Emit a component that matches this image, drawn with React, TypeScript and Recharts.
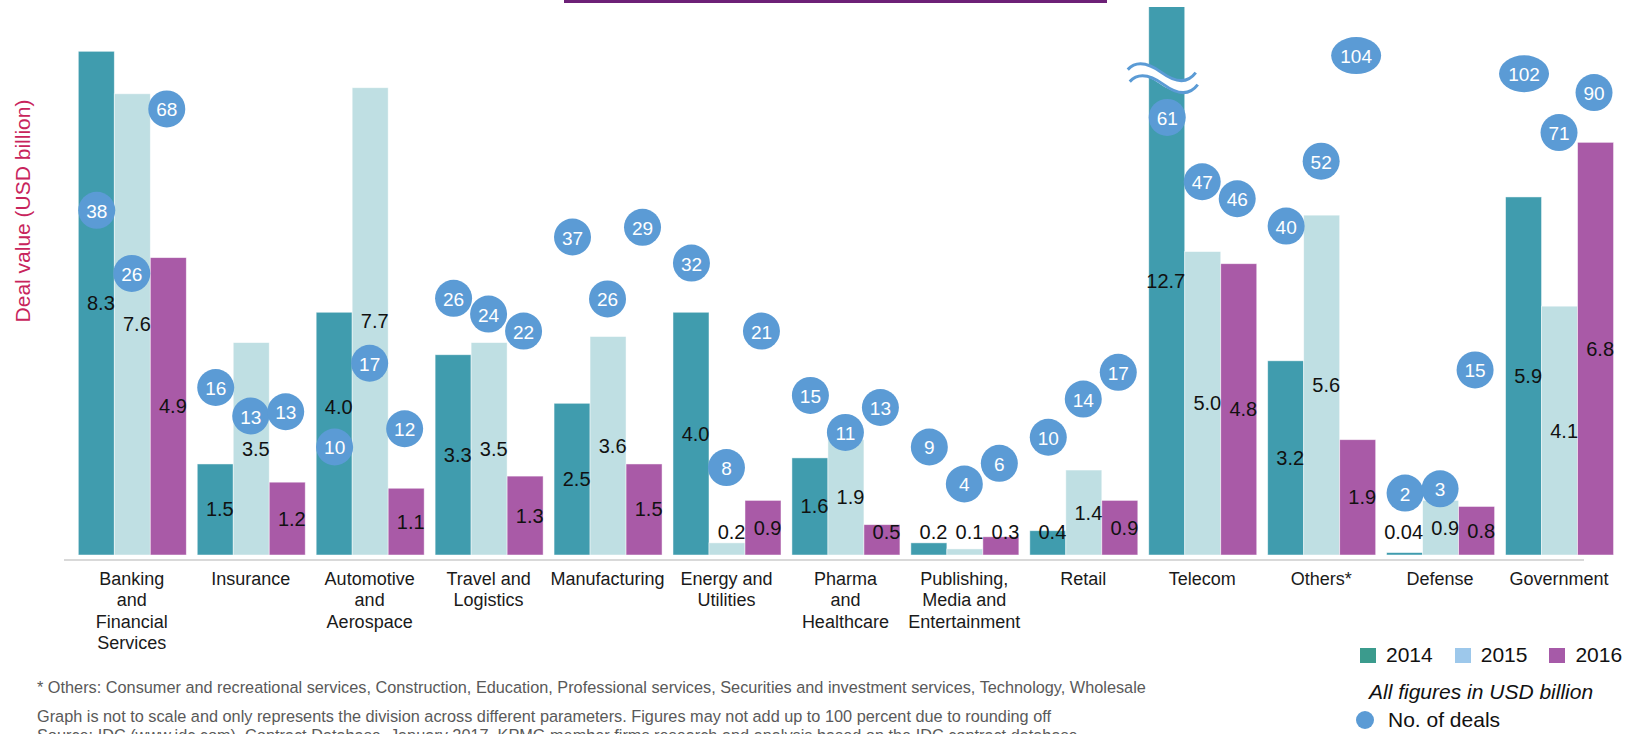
import React from 'react';
import { ComposedChart, Bar, Scatter, XAxis, YAxis, LabelList, Legend } from 'recharts';

// categories (line breaks are the label wrapping used in the original)
const categories = [
  'Banking\nand\nFinancial\nServices',
  'Insurance',
  'Automotive\nand\nAerospace',
  'Travel and\nLogistics',
  'Manufacturing',
  'Energy and\nUtilities',
  'Pharma\nand\nHealthcare',
  'Publishing,\nMedia and\nEntertainment',
  'Retail',
  'Telecom',
  'Others*',
  'Defense',
  'Government',
];

// deal value, USD billion
const value2014 = [8.3, 1.5, 4.0, 3.3, 2.5, 4.0, 1.6, 0.2, 0.4, 12.7, 3.2, 0.04, 5.9];
const value2015 = [7.6, 3.5, 7.7, 3.5, 3.6, 0.2, 1.9, 0.1, 1.4, 5.0, 5.6, 0.9, 4.1];
const value2016 = [4.9, 1.2, 1.1, 1.3, 1.5, 0.9, 0.5, 0.3, 0.9, 4.8, 1.9, 0.8, 6.8];

// number of deals
const deals2014 = [38, 16, 10, 26, 37, 32, 15, 9, 10, 61, 40, 2, 102];
const deals2015 = [26, 13, 17, 24, 26, 8, 11, 4, 14, 47, 52, 3, 71];
const deals2016 = [68, 13, 12, 22, 29, 21, 13, 6, 17, 46, 104, 15, 90];

// height at which each deal bubble sits, on the deal value axis
const dealLevel2014 = [5.68, 2.76, 1.78, 4.23, 5.24, 4.81, 2.63, 1.78, 1.94, 7.21, 5.42, 1.02, 7.93];
const dealLevel2015 = [4.64, 2.29, 3.16, 3.97, 4.22, 1.44, 2.02, 1.17, 2.57, 6.15, 6.49, 1.09, 6.96];
const dealLevel2016 = [7.35, 2.36, 2.08, 3.69, 5.4, 3.69, 2.43, 1.51, 3.01, 5.87, 8.23, 3.05, 7.62];

const years = ['2014', '2015', '2016'];

const Y_MAX = 9.03;
const BREAK_AT = 7.85;

const CHART_W = 1629;
const CHART_H = 734;
const MARGIN = { top: 7, right: 10.5, left: 72.3, bottom: 79 };
const BAR_SIZE = 35;
const BAND = (CHART_W - MARGIN.left - MARGIN.right) / categories.length;
const BAR_STEP = BAR_SIZE / BAND;

const FONT = '"Liberation Sans", Arial, sans-serif';
const BAR_COLORS = ['#409CAE', '#BFDFE3', '#A95AA7'];
const LEGEND_COLORS: Record<string, string> = { '2014': '#3B9B8D', '2015': '#9DC8EB', '2016': '#A65AA8' };
const BUBBLE = '#5B9BD5';

const chartData = categories.map((name, i) => ({
  name,
  y2014: value2014[i],
  y2015: value2015[i],
  y2016: value2016[i],
}));

const levels = [dealLevel2014, dealLevel2015, dealLevel2016];
const deals = [deals2014, deals2015, deals2016];
const dealData = deals.flatMap((row, k) =>
  row.map((n, i) => ({ x: i + 0.5 + (k - 1) * BAR_STEP, y: levels[k][i], n }))
);

const renderTick = (props: any) => {
  const { x, y, payload } = props;
  const lines = String(payload.value).split('\n');
  return (
    <text x={x} y={y} textAnchor="middle" fontSize={18} fill="#1a1a1a" fontFamily={FONT}>
      {lines.map((l, i) => (
        <tspan key={i} x={x} dy={i === 0 ? 30 : 21.4}>
          {l}
        </tspan>
      ))}
    </text>
  );
};

const renderBar = (props: any) => {
  const { x, y, width, height, fill, payload, dataKey } = props;
  const v = payload ? payload[dataKey] : 0;
  const bottom = y + height;
  const broken = v > Y_MAX;
  const cx = x + width / 2 - 3;
  const cy = bottom - height * (BREAK_AT / v);
  const wave = 'M -36 -9 Q -24 -22 -2 -6 T 32 -6';
  return (
    <g>
      <rect x={x} y={y} width={width} height={height} fill={fill} stroke="#ffffff" strokeOpacity={0.6} strokeWidth={0.8} />
      {broken && (
        <g transform={`translate(${cx},${cy})`}>
          <path d={wave} transform="translate(0,6)" fill="none" stroke="#ffffff" strokeWidth={11} />
          <path d={wave} fill="none" stroke={BUBBLE} strokeWidth={3} />
          <path d={wave} transform="translate(2,12)" fill="none" stroke={BUBBLE} strokeWidth={3} />
        </g>
      )}
    </g>
  );
};

// value labels sit in the middle of the visible bar, never lower than just above the base,
// and move above the deal bubble when they would run into it
const makeValueLabel = (k: number) => (props: any) => {
  const vb = props.viewBox ?? props;
  const { x, y, width, height } = vb;
  const v = Number(props.value);
  const bottom = y + height;
  const top = Math.max(y, MARGIN.top);
  let cy = Math.min((bottom + top) / 2, bottom - 23);
  const idx = props.index;
  if (typeof idx === 'number' && v > 0) {
    const bubbleY = bottom - (levels[k][idx] / v) * height;
    if (Math.abs(bubbleY - cy) < 30) cy = bubbleY - 40;
  }
  const text = v < 0.1 ? v.toFixed(2) : v.toFixed(1);
  return (
    <text x={x + width + 0.5} y={cy} textAnchor="end" dominantBaseline="central" fontSize={20} fill="#111" fontFamily={FONT}>
      {text}
    </text>
  );
};

const renderBubble = (props: any) => {
  const { cx, cy, payload } = props;
  const wide = payload.n >= 100;
  return (
    <g>
      <ellipse cx={cx} cy={cy} rx={wide ? 25 : 18.5} ry={18.5} fill={BUBBLE} />
      <text x={cx} y={cy + 1} textAnchor="middle" dominantBaseline="central" fontSize={19} fill="#ffffff" fontFamily={FONT}>
        {payload.n}
      </text>
    </g>
  );
};

const renderLegend = (props: any) => {
  const payload: any[] = props.payload || [];
  const bars = payload.filter((p) => p.type !== 'circle');
  const dots = payload.filter((p) => p.type === 'circle');
  return (
    <div style={{ position: 'relative', width: 273, height: 98, fontFamily: FONT, fontSize: 21, color: '#111' }}>
      <div style={{ position: 'absolute', left: 4, top: 5, height: 28, display: 'flex', alignItems: 'center' }}>
        {bars.map((p) => (
          <div key={p.value} style={{ display: 'flex', alignItems: 'center', marginRight: 22 }}>
            <span style={{ width: 16, height: 15, background: LEGEND_COLORS[p.value] ?? p.color, display: 'inline-block' }} />
            <span style={{ marginLeft: 10, lineHeight: '28px' }}>{p.value}</span>
          </div>
        ))}
      </div>
      <div style={{ position: 'absolute', left: 13, top: 42, lineHeight: '28px', fontStyle: 'italic', whiteSpace: 'nowrap' }}>
        All figures in USD billion
      </div>
      {dots.map((p) => (
        <div key={p.value} style={{ position: 'absolute', left: 0, top: 70, height: 28, display: 'flex', alignItems: 'center' }}>
          <span style={{ width: 18, height: 18, borderRadius: 9, background: BUBBLE, display: 'inline-block' }} />
          <span style={{ marginLeft: 14, lineHeight: '28px', whiteSpace: 'nowrap' }}>{p.value}</span>
        </div>
      ))}
    </div>
  );
};

export default function App() {
  return (
    <div
      style={{
        position: 'absolute',
        left: 0,
        top: 0,
        width: CHART_W,
        height: CHART_H,
        overflow: 'hidden',
        background: '#ffffff',
        fontFamily: FONT,
      }}
    >
      <div style={{ position: 'absolute', left: 564, top: 0, width: 543, height: 3, background: '#6D2077' }} />
      <ComposedChart width={CHART_W} height={CHART_H} data={chartData} margin={MARGIN} barCategoryGap={6} barGap={0}>
        <XAxis
          dataKey="name"
          interval={0}
          tickLine={false}
          axisLine={false}
          tickSize={0}
          tickMargin={0}
          height={100}
          tick={renderTick}
        />
        <XAxis xAxisId="pos" type="number" dataKey="x" domain={[0, categories.length]} hide />
        <YAxis hide type="number" domain={[0, Y_MAX]} allowDataOverflow />
        {years.map((yr, k) => (
          <Bar
            key={yr}
            dataKey={`y${yr}`}
            name={yr}
            fill={BAR_COLORS[k]}
            isAnimationActive={false}
            shape={renderBar}
          >
            <LabelList dataKey={`y${yr}`} content={makeValueLabel(k)} />
          </Bar>
        ))}
        <Scatter
          name="No. of deals"
          data={dealData}
          xAxisId="pos"
          dataKey="y"
          fill={BUBBLE}
          legendType="circle"
          shape={renderBubble}
          isAnimationActive={false}
        />
        <Legend
          layout="horizontal"
          verticalAlign="middle"
          align="center"
          content={renderLegend}
          wrapperStyle={{ left: 1356, top: 636, width: 273, height: 98 }}
        />
      </ComposedChart>
      <div style={{ position: 'absolute', left: 64, top: 559, width: 1520, height: 2, background: '#D9D9D9' }} />
      <div
        style={{
          position: 'absolute',
          left: 23,
          top: 211,
          transform: 'translate(-50%, -50%) rotate(-90deg)',
          whiteSpace: 'nowrap',
          fontSize: 21,
          color: '#C8245C',
        }}
      >
        Deal value (USD billion)
      </div>
      <div style={{ position: 'absolute', left: 37, top: 678, fontSize: 16.3, lineHeight: '18px', color: '#595959', whiteSpace: 'nowrap' }}>
        * Others: Consumer and recreational services, Construction, Education, Professional services, Securities and investment services, Technology, Wholesale
      </div>
      <div style={{ position: 'absolute', left: 37, top: 707, fontSize: 16.3, lineHeight: '18.5px', color: '#595959', whiteSpace: 'nowrap' }}>
        Graph is not to scale and only represents the division across different parameters. Figures may not add up to 100 percent due to rounding off
        <br />
        Source: IDC (www.idc.com), Contract Database, January 2017, KPMG member firms research and analysis based on the IDC contract database
      </div>
    </div>
  );
}
